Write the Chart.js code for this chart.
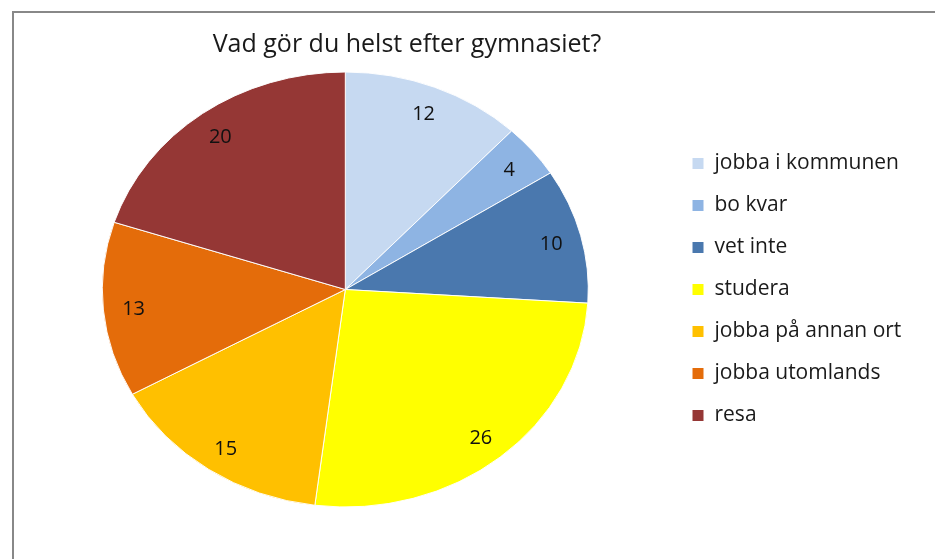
<!DOCTYPE html>
<html lang="sv">
<head>
<meta charset="utf-8">
<title>Vad gör du helst efter gymnasiet?</title>
<script src="https://cdn.jsdelivr.net/npm/chart.js@4/dist/chart.umd.min.js"></script>
<style>
  html, body { margin: 0; padding: 0; background: #fff; overflow: hidden; }
  #frame { position: absolute; left: 12px; top: 11px; width: 1000px; height: 700px; border: 2px solid #888; }
  #pie { position: absolute; left: 0; top: 0; }
</style>
</head>
<body>
<div id="frame"></div>
<canvas id="pie" width="935" height="559"></canvas>
<script>
// data
const TITLE = "Vad gör du helst efter gymnasiet?";
const CATEGORIES = ["jobba i kommunen", "bo kvar", "vet inte", "studera", "jobba på annan ort", "jobba utomlands", "resa"];
const VALUES = [12, 4, 10, 26, 15, 13, 20];
const COLORS = ["#C6D9F1", "#8EB4E3", "#4A78AE", "#FFFF00", "#FFC000", "#E46C0A", "#953735"];

// looks
const FONT = "'Open Sans', sans-serif";
const PIE_ASPECT = 0.895;   // the picture is stretched sideways, so the pie is an ellipse
const LABEL_POS = 0.875;
const TITLE_X = 407, TITLE_Y = 45;
const LEGEND_LEFT = 670, LEGEND_PAD = 21, LEGEND_BOX = 12, LEGEND_FONT = 21;

Chart.defaults.font.family = FONT;

// legend width, so the pie lands where it should
const mctx = document.createElement("canvas").getContext("2d");
mctx.font = LEGEND_FONT + "px " + FONT;
const textW = Math.max(...CATEGORIES.map(c => mctx.measureText(c).width));
const legendW = LEGEND_PAD + LEGEND_BOX + LEGEND_FONT / 2 + textW + 10;
const padRight = 935 - (LEGEND_LEFT + 1) - legendW;
const padLeft = 2 * 345.3 - (LEGEND_LEFT + 1);

// squash the pie, write the values on the slices, draw the title
const squashPie = {
  id: "squashPie",
  beforeDatasetsDraw(chart) {
    const { ctx, chartArea } = chart;
    const cy = (chartArea.top + chartArea.bottom) / 2;
    ctx.save();
    ctx.translate(0, cy);
    ctx.scale(1, PIE_ASPECT);
    ctx.translate(0, -cy);
  },
  afterDatasetsDraw(chart) {
    const { ctx } = chart;
    ctx.restore();
    const meta = chart.getDatasetMeta(0);
    ctx.save();
    ctx.font = "20px " + FONT;
    ctx.fillStyle = "#111";
    ctx.textAlign = "center";
    ctx.textBaseline = "middle";
    meta.data.forEach((arc, i) => {
      const p = arc.getProps(["x", "y", "startAngle", "endAngle", "outerRadius"], true);
      const mid = (p.startAngle + p.endAngle) / 2;
      const r = p.outerRadius * LABEL_POS;
      ctx.fillText(String(VALUES[i]), p.x + Math.cos(mid) * r, p.y + Math.sin(mid) * r * PIE_ASPECT + 2);
    });
    ctx.restore();
  },
  afterDraw(chart) {
    const { ctx } = chart;
    ctx.save();
    ctx.font = "25px " + FONT;
    ctx.fillStyle = "#1a1a1a";
    ctx.textAlign = "center";
    ctx.textBaseline = "middle";
    ctx.fillText(TITLE, TITLE_X, TITLE_Y);
    ctx.restore();
  }
};

const chart = new Chart(document.getElementById("pie").getContext("2d"), {
  type: "pie",
  data: {
    labels: CATEGORIES,
    datasets: [{
      data: VALUES,
      backgroundColor: COLORS,
      borderColor: "#fff",
      borderWidth: 1
    }]
  },
  options: {
    responsive: false,
    animation: false,
    layout: { padding: { left: padLeft, right: padRight, top: 46, bottom: 26 } },
    plugins: {
      title: { display: false },
      legend: {
        position: "right",
        fullSize: false,
        labels: {
          boxWidth: LEGEND_BOX, boxHeight: LEGEND_BOX, padding: LEGEND_PAD,
          color: "#1a1a1a", font: { size: LEGEND_FONT }
        }
      },
      tooltip: { enabled: false }
    }
  },
  plugins: [squashPie]
});
</script>
</body>
</html>
